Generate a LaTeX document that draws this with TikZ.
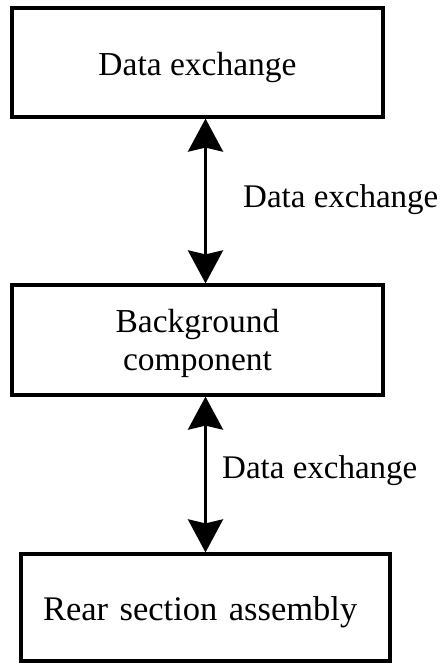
\documentclass[tikz,border=0pt]{standalone}
\usepackage{fontspec}
\setmainfont{Liberation Serif}
\usetikzlibrary{arrows.meta}

\tikzset{
  blockbox/.style={draw=black, line width=3.2pt, fill=white, inner sep=0pt,
    font=\fontsize{33.5}{38}\selectfont},
  linkarrow/.style={line width=3.4pt,
    {Stealth[length=33pt,width=35pt,inset=4pt]}-{Stealth[length=33pt,width=35pt,inset=4pt]}},
  linklabel/.style={anchor=base west, inner sep=0pt, font=\fontsize{33}{38}\selectfont}
}

\begin{document}
\begin{tikzpicture}[x=1pt, y=1pt]
  \useasboundingbox (0,0) rectangle (442,-663);

  % the three blocks
  \node[blockbox, minimum width=371pt, minimum height=109pt,
        text height=28pt, text depth=1pt] (b1) at (197.5,-62.5) {Data exchange};
  \node[blockbox, minimum width=371pt, minimum height=110pt,
        align=center, text depth=0pt] (b2) at (197.5,-340) {Background\\component};
  \node[blockbox, minimum width=369pt, minimum height=107pt,
        text width=325pt, align=left, font=\fontsize{34.5}{38}\selectfont,
        text height=26pt, text depth=1pt] (b3) at (205.5,-607.5) {Rear section assembly};

  % column of the double arrows
  \coordinate (ax) at (205.5,0);

  \draw[linkarrow] (b1.south -| ax) -- (b2.north -| ax);
  \draw[linkarrow] (b2.south -| ax) -- (b3.north -| ax);

  \node[linklabel] (l1) at (243,-207) {Data exchange};
  \node[linklabel] (l2) at (222,-478) {Data exchange};
\end{tikzpicture}
\end{document}
